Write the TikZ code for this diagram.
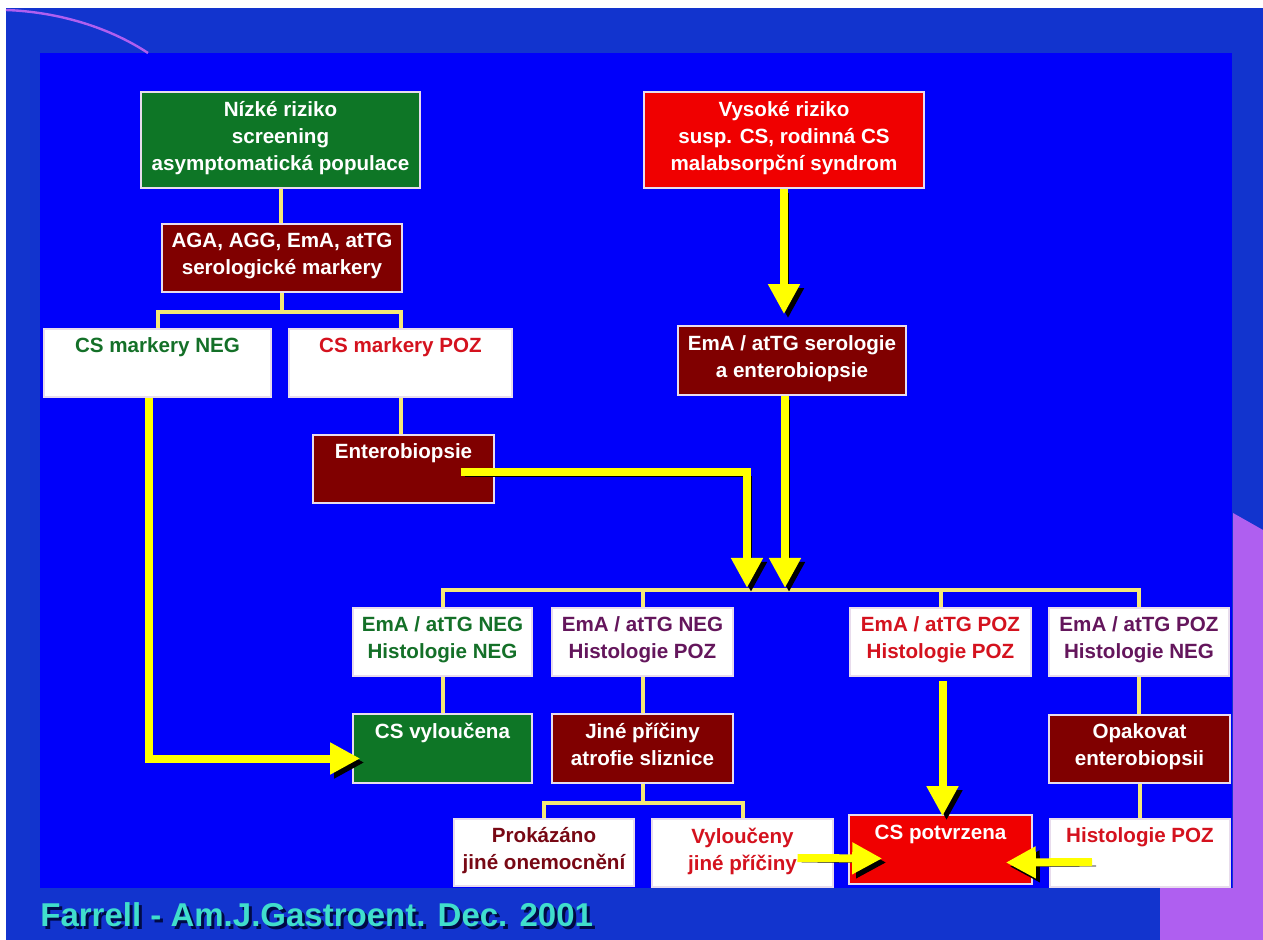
\documentclass[tikz,border=0pt]{standalone}
\usepackage{fontspec}
\setmainfont{Liberation Sans}
\usetikzlibrary{arrows.meta,calc}
\definecolor{outerblue}{RGB}{18,52,206}
\definecolor{innerblue}{RGB}{0,0,250}
\definecolor{lav}{RGB}{175,95,240}
\definecolor{gfill}{RGB}{14,118,38}
\definecolor{dfill}{RGB}{128,0,0}
\definecolor{rfill}{RGB}{240,0,0}
\definecolor{gtxt}{RGB}{20,112,40}
\definecolor{rtxt}{RGB}{212,18,30}
\definecolor{ptxt}{RGB}{100,22,92}
\definecolor{dtxt}{RGB}{120,8,20}
\definecolor{ylw}{RGB}{255,255,0}
\definecolor{pyl}{RGB}{245,232,120}
\definecolor{bline}{RGB}{232,220,236}
\definecolor{footc}{RGB}{64,222,204}
\definecolor{footsh}{RGB}{0,10,70}
\begin{document}
\begin{tikzpicture}[x=0.5pt,y=-0.5pt,
 box/.style={draw=bline, line width=0.8pt, inner sep=0pt, align=center,
   font=\bfseries\fontsize{10.3}{13.5}\selectfont,
   execute at begin node=\strut, execute at end node=\strut},
 gbox/.style={box, fill=gfill, text=white},
 dbox/.style={box, fill=dfill, text=white},
 rbox/.style={box, fill=rfill, text=white},
 wbox/.style={box, fill=white},
 sz/.style 2 args={minimum width=#1, minimum height=#2},
 thinl/.style={draw=pyl, line width=2pt},
 arr/.style={draw=ylw, line width=4pt, -{Triangle[width=15pt,length=15pt]},
   preaction={draw=black, transform canvas={shift={(2pt,-2pt)}}}},
 foottext/.style={anchor=base west, inner sep=0pt, font=\bfseries\fontsize{16.5}{18}\selectfont}
]
\useasboundingbox (0,0) rectangle (1263,940);
% background
\fill[white] (0,0) rectangle (1263,940);
\fill[outerblue] (6,8) rectangle (1263,940);
\fill[lav] (1233,513) -- (1263,530) -- (1263,940) -- (1160,940) -- (1160,888) -- (1233,888) -- cycle;
\fill[innerblue] (40,53) rectangle (1232,888);
\draw[lav, line width=1.2pt] (6,10) .. controls (60,12) and (110,28) .. (148,53);

% nodes
\node[gbox, sz={139.5pt}{48pt}] (low) at (280.5,140) {Nízké riziko\\screening\\asymptomatická populace};
\node[dbox, sz={120pt}{34pt}] (sero) at (282,258) {AGA, AGG, EmA, atTG\\serologické markery};
\node[wbox, text=gtxt, sz={113.5pt}{34pt}] (neg) at (157.5,363) {CS markery NEG\\};
\node[wbox, text=rtxt, sz={111.5pt}{34pt}] (poz) at (400.5,363) {CS markery POZ\\};
\node[dbox, sz={90.5pt}{34pt}] (entero) at (403.5,469) {Enterobiopsie\\};
\node[rbox, sz={140pt}{48pt}] (high) at (784,140) {Vysoké riziko\\susp. CS, rodinná CS\\malabsorpční syndrom};
\node[dbox, sz={114pt}{34.5pt}] (emaserol) at (792,360.5) {EmA / atTG serologie\\a enterobiopsie};
\node[wbox, text=gtxt, sz={89.5pt}{34pt}] (b1) at (442.5,642) {EmA / atTG NEG\\Histologie NEG};
\node[wbox, text=ptxt, sz={90.5pt}{34pt}] (b2) at (642.5,642) {EmA / atTG NEG\\Histologie POZ};
\node[wbox, text=rtxt, sz={90.5pt}{34pt}] (b3) at (940.5,642) {EmA / atTG POZ\\Histologie POZ};
\node[wbox, text=ptxt, sz={90pt}{34pt}] (b4) at (1139,642) {EmA / atTG POZ\\Histologie NEG};
\node[gbox, sz={89.5pt}{34.5pt}] (vyl) at (442.5,748.5) {CS vyloučena\\};
\node[dbox, sz={90.5pt}{34.5pt}] (jine) at (642.5,748.5) {Jiné příčiny\\atrofie sliznice};
\node[dbox, sz={90.5pt}{34pt}] (opak) at (1139.5,749) {Opakovat\\enterobiopsii};
\node[wbox, text=dtxt, sz={90pt}{33.5pt}] (prok) at (544,852.5) {Prokázáno\\jiné onemocnění};
\node[wbox, text=rtxt, sz={90.5pt}{34pt}] (vylo) at (742.5,853) {Vyloučeny\\jiné příčiny};
\node[rbox, sz={91.5pt}{34.5pt}] (potv) at (940.5,849.5) {CS potvrzena\\};
\node[wbox, text=rtxt, sz={90pt}{34pt}] (hist) at (1140,853) {Histologie POZ\\};

% footer
\node[foottext, text=footsh] (footshadow) at (43,929) {Farrell - Am.J.Gastroent. Dec. 2001};
\node[foottext, text=footc] (footer) at (40,926) {Farrell - Am.J.Gastroent. Dec. 2001};

% thin connectors
\draw[thinl] (low.south) -- (low.south |- sero.north);
\draw[thinl] (sero.south) -- ++(0,19) coordinate (j1);
\draw[thinl] (neg.north) |- (j1) -| (poz.north);
\draw[thinl] (poz.south) -- (poz.south |- entero.north);
\coordinate (bar) at (642,590);
\draw[thinl] (b1.north) |- (bar) -| (b4.north);
\draw[thinl] (b2.north) -- (b2.north |- bar);
\draw[thinl] (b3.north) -- (b3.north |- bar);
\draw[thinl] (b1.south) -- (b1.south |- vyl.north);
\draw[thinl] (b2.south) -- (b2.south |- jine.north);
\draw[thinl] (jine.south) -- ++(0,19) coordinate (j2);
\draw[thinl] (prok.north) |- (j2) -| (vylo.north);
\draw[thinl] (b4.south) -- (b4.south |- opak.north);
\draw[thinl] (opak.south) -- (opak.south |- hist.north);

% thick arrows
\coordinate (m1) at (747,588);
\coordinate (m2) at (785,588);
\draw[arr] ($(neg.south)+(-9,0)$) |- ($(vyl.west)+(8,10)$);
\draw[arr] ($(entero.center)+(57,3)$) -| (m1);
\draw[arr] (emaserol.south -| m2) -- (m2);
\draw[arr] (high.south) -- ($(high.south |- emaserol.north)+(0,-11)$);
\draw[arr] ($(b3.south)+(2,4)$) -- ($(potv.north)+(2,2)$);
\draw[arr] ($(vylo.center)+(55,5)$) -- ($(potv.west)+(34,9)$);
\draw[arr] ($(hist.center)+(-48,9)$) -- ($(potv.east)+(-27,13)$);
\end{tikzpicture}
\end{document}
